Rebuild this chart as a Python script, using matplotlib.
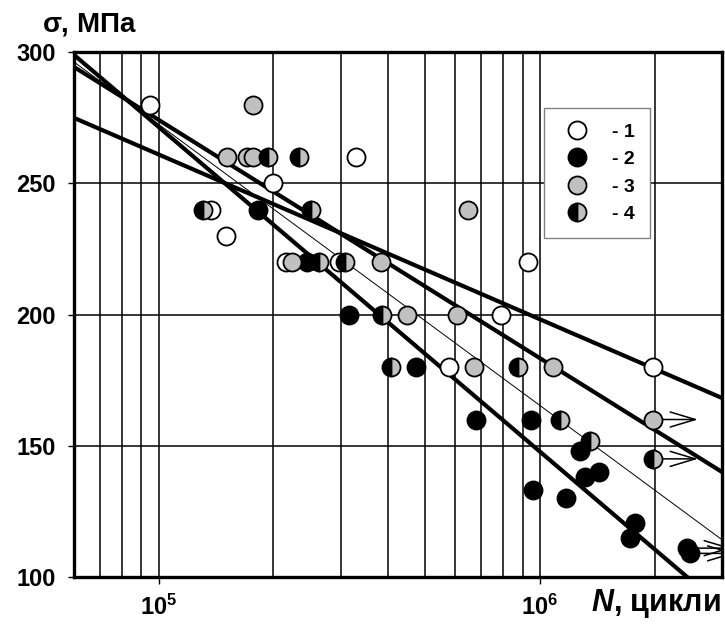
import matplotlib

matplotlib.use("Agg")
import matplotlib.pyplot as plt
from matplotlib.patches import FancyArrowPatch
from matplotlib.ticker import FixedLocator, NullFormatter

plt.rcParams["font.family"] = ["Liberation Sans", "DejaVu Sans"]
plt.rcParams["font.weight"] = "bold"
plt.rcParams["mathtext.fontset"] = "custom"
plt.rcParams["mathtext.rm"] = "Liberation Sans"
plt.rcParams["mathtext.bf"] = "Liberation Sans:bold"
plt.rcParams["mathtext.it"] = "Liberation Sans:italic:bold"

# ---------------------------------------------------------------------------
# data (N in cycles, sigma in MPa)
# ---------------------------------------------------------------------------
N1 = [9.5e4, 1.375e5, 1.505e5, 2.0e5, 3.29e5, 2.16e5, 2.97e5, 9.3e5, 7.9e5, 5.78e5, 1.98e6]
S1 = [280, 240, 230, 250, 260, 220, 220, 220, 200, 180, 180]

N2 = [1.82e5, 2.45e5, 3.16e5, 4.72e5, 6.8e5, 9.48e5, 9.6e5, 1.17e6, 1.27e6,
      1.31e6, 1.43e6, 1.77e6, 1.72e6, 2.43e6, 2.48e6]
S2 = [240, 220, 200, 180, 160, 160, 133, 130, 148, 138, 140, 120.5, 115, 111, 109]

N3 = [1.77e5, 1.51e5, 1.70e5, 1.77e5, 2.24e5, 3.82e5, 4.47e5, 6.04e5, 6.49e5,
      6.73e5, 1.08e6, 1.98e6]
S3 = [280, 260, 260, 260, 220, 220, 200, 200, 240, 180, 180, 160]

N4 = [1.31e5, 1.93e5, 2.33e5, 2.51e5, 2.63e5, 3.08e5, 3.85e5, 4.06e5, 8.77e5,
      1.13e6, 1.35e6, 1.98e6]
S4 = [240, 260, 260, 240, 220, 220, 200, 180, 180, 160, 152, 145]

# run-outs (specimens that did not fail) -> arrows
RUNOUT_N = [1.98e6, 1.98e6, 2.43e6, 2.48e6]
RUNOUT_S = [160, 145, 111, 109]

# fatigue curves: sigma at the two ends of the N range
FIT_N = [6e4, 3e6]
FIT_A = [274.9, 168.2]
FIT_B = [294.3, 140.0]
FIT_C = [298.9, 88.7]
FIT_THIN = [296.2, 114.2]

LEGEND_LABELS = ["- 1", "- 2", "- 3", "- 4"]
Y_TICKS = [100, 150, 200, 250, 300]
X_MAJOR = [1e5, 1e6]
X_GRID = [7e4, 8e4, 9e4, 1e5, 2e5, 3e5, 4e5, 5e5, 6e5, 7e5, 8e5, 9e5, 1e6, 2e6]

GRAY = "#c0c0c0"
MS = 13
MEW = 1.3

fig = plt.figure(figsize=(7.25, 6.26), dpi=100)
ax = fig.add_axes([74 / 725, 49 / 626, 648 / 725, 525 / 626])
ax.set_xscale("log")
ax.set_xlim(6e4, 3e6)
ax.set_ylim(100, 300)

# grid
for xv in X_GRID:
    ax.axvline(xv, color="black", lw=1.1, zorder=0.5)
for yv in Y_TICKS[1:-1]:
    ax.axhline(yv, color="black", lw=1.1, zorder=0.5)

# fitted lines
for fit in (FIT_A, FIT_B, FIT_C):
    ax.plot(FIT_N, fit, color="black", lw=3.0, solid_capstyle="butt", zorder=2)
ax.plot(FIT_N, FIT_THIN, color="black", lw=0.7, zorder=2)

# run-out arrows
for n, s in zip(RUNOUT_N, RUNOUT_S):
    arr = FancyArrowPatch((n, s), (n * 1.31, s),
                          arrowstyle="->,head_length=1.0,head_width=0.3",
                          mutation_scale=18, lw=1.1, color="black",
                          shrinkA=0, shrinkB=0, zorder=2.5)
    ax.add_patch(arr)

# points
common = dict(ls="none", marker="o", ms=MS, mec="black", mew=MEW, zorder=3)
h1, = ax.plot(N1, S1, mfc="white", **common)
h2, = ax.plot(N2, S2, mfc="black", **common)
h3, = ax.plot(N3, S3, mfc=GRAY, **common)
h4, = ax.plot(N4, S4, mfc="black", mfcalt=GRAY, fillstyle="left", **common)

# axes styling
for sp in ax.spines.values():
    sp.set_linewidth(2.4)
    sp.set_zorder(5)

ax.yaxis.set_major_locator(FixedLocator(Y_TICKS))
ax.tick_params(axis="y", direction="out", length=4, width=1.0, pad=9, labelsize=17)
for lab in ax.get_yticklabels():
    lab.set_fontweight("bold")

ax.xaxis.set_major_locator(FixedLocator(X_MAJOR))
ax.xaxis.set_minor_locator(FixedLocator([]))
ax.xaxis.set_minor_formatter(NullFormatter())
ax.set_xticklabels([r"$\mathbf{10^{5}}$", r"$\mathbf{10^{6}}$"])
ax.tick_params(axis="x", which="major", direction="out", length=5, width=1.0, pad=8, labelsize=17)

# legend
handles = [h1, h2, h3, h4]
leg = ax.legend(handles, LEGEND_LABELS, loc="upper left", bbox_to_anchor=(0.726, 0.893),
                borderaxespad=0, frameon=True, fancybox=False, framealpha=1,
                edgecolor="#808080", handlelength=1.8, handletextpad=0.9,
                borderpad=0.78, labelspacing=0.5, prop={"size": 14, "weight": "bold"})
leg.get_frame().set_linewidth(1.0)

# axis titles
fig.text(42 / 725, 1 - 24 / 626, r"$\mathrm{σ}$, МПа", fontsize=20, fontweight="bold",
         ha="left", va="center")
fig.text(721 / 725, 1 - 604 / 626, r"$\mathit{N}$, цикли", fontsize=22, fontweight="bold",
         ha="right", va="center")

fig.savefig("out.png", dpi=100)
